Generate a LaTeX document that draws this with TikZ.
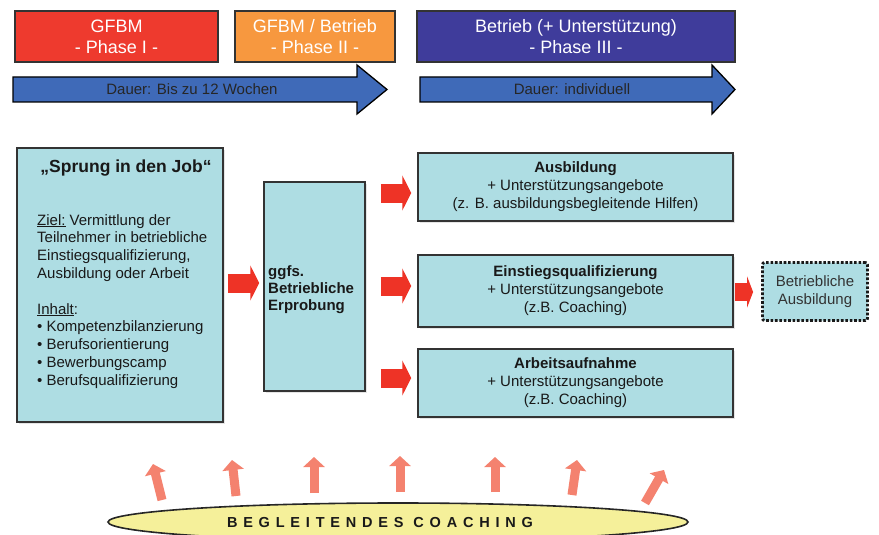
\documentclass[tikz,border=0pt]{standalone}
\usepackage{fontspec}
\setmainfont{Liberation Sans}
\usetikzlibrary{arrows.meta,shapes.geometric,calc,shadows}
\definecolor{phred}{HTML}{EE3A2E}
\definecolor{phorange}{HTML}{F7983F}
\definecolor{phpurple}{HTML}{3F3C9B}
\definecolor{durblue}{HTML}{3F6AB8}
\definecolor{boxcyan}{HTML}{AEDDE3}
\definecolor{arrred}{HTML}{EE3326}
\definecolor{salmon}{HTML}{F4826F}
\definecolor{coachyellow}{HTML}{F5F09A}
\definecolor{edgegray}{HTML}{333333}
\begin{document}
\begin{tikzpicture}[x=1pt,y=-1pt,
  phasebox/.style={draw=edgegray, line width=1.3pt, text=white, align=center, inner sep=0pt,
    font=\fontsize{18}{21}\selectfont},
  cyanbox/.style={draw=edgegray, fill=boxcyan, line width=1.5pt, inner sep=0pt,
    drop shadow={shadow xshift=1.5pt, shadow yshift=-1.5pt, opacity=0.2}},
  resultbox/.style={cyanbox, align=center, text=black!90, font=\fontsize{15}{18}\selectfont,
    minimum width=315pt},
  durarrow/.style={draw=black, fill=durblue, line width=1.3pt, line join=miter},
  durtext/.style={inner sep=0pt, text=black!85, font=\fontsize{15}{18}\selectfont},
  redarr/.style={draw=arrred, line width=19pt, -{Triangle[width=35pt,length=9pt]}},
  smallredarr/.style={draw=arrred, line width=18pt, -{Triangle[width=31pt,length=6pt]}},
  coacharr/.style={draw=salmon, line width=9pt, -{Triangle[width=21pt,length=10pt]}}
]
\useasboundingbox (0,0) rectangle (879,535);
\fill[white] (0,0) rectangle (879,535);

% phase boxes
\node[phasebox, fill=phred, minimum width=203pt, minimum height=51pt] (p1) at (116.5,36.5) {GFBM\\- Phase I -};
\node[phasebox, fill=phorange, minimum width=160pt, minimum height=51pt] (p2) at (315,36.5) {GFBM / Betrieb\\- Phase II -};
\node[phasebox, fill=phpurple, minimum width=318pt, minimum height=51pt] (p3) at (576,36.5) {Betrieb (+ Unterstützung)\\- Phase III -};

% duration arrows
\draw[durarrow] (13,77) -- (357,77) -- (357,65) -- (387,89.5) -- (357,114) -- (357,102) -- (13,102) -- cycle;
\node[durtext] (d1) at (192,89.5) {Dauer: Bis zu 12 Wochen};
\draw[durarrow] (420,77) -- (712,77) -- (712,65) -- (735,89.5) -- (712,114) -- (712,102) -- (420,102) -- cycle;
\node[durtext] (d2) at (572,89.5) {Dauer: individuell};

% left box
\node[cyanbox, minimum width=206pt, minimum height=274pt] (sj) at (120,285) {};
\node[inner sep=0pt, text=black!90, font=\bfseries\fontsize{17.5}{20}\selectfont] (sjt) at (126,168) {„Sprung in den Job“};
\node[anchor=north west, align=left, inner sep=0pt, text=black!90, font=\fontsize{15}{17.8}\selectfont] (sjb) at (37,214)
  {\underline{Ziel:} Vermittlung der\\Teilnehmer in betriebliche\\Einstiegsqualifizierung,\\Ausbildung oder Arbeit\\[17.8pt]
   \underline{Inhalt}:\\• Kompetenzbilanzierung\\• Berufsorientierung\\• Bewerbungscamp\\• Berufsqualifizierung};

% middle box
\node[cyanbox, minimum width=101pt, minimum height=209pt] (gb) at (314.5,286.5) {};
\node[anchor=north west, align=left, inner sep=0pt, text=black!90, font=\bfseries\fontsize{15}{17}\selectfont] (gbt) at (268,265)
  {ggfs.\\Betriebliche\\Erprobung};

% result boxes
\node[resultbox, minimum height=68pt] (a1) at (575.5,187) {\textbf{Ausbildung}\\+ Unterstützungsangebote\\(z. B. ausbildungsbegleitende Hilfen)};
\node[resultbox, minimum height=72pt] (a2) at (575.5,291) {\textbf{Einstiegsqualifizierung}\\+ Unterstützungsangebote\\(z.B. Coaching)};
\node[resultbox, minimum height=68pt] (a3) at (575.5,383) {\textbf{Arbeitsaufnahme}\\+ Unterstützungsangebote\\(z.B. Coaching)};

% dotted box
\node[draw=black!90, dash pattern=on 2.6pt off 1.8pt, line width=2.8pt, fill=boxcyan, rounded corners=2pt,
  minimum width=105pt, minimum height=58pt, inner sep=0pt, align=center, text=black!80,
  font=\fontsize{15}{18}\selectfont] (ba) at (815,291.5) {Betriebliche\\Ausbildung};

% red arrows
\draw[redarr] ($(sj.east |- 0,283)+(4,0)$) -- ($(gb.west |- 0,283)+(-4,0)$);
\draw[redarr] ($(gb.east |- 0,193)+(15,0)$) -- ($(a1.west |- 0,193)+(-6,0)$);
\draw[redarr] ($(gb.east |- 0,286)+(15,0)$) -- ($(a2.west |- 0,286)+(-6,0)$);
\draw[redarr] ($(gb.east |- 0,378)+(15,0)$) -- ($(a3.west |- 0,378)+(-6,0)$);
\draw[smallredarr] ($(a2.east |- 0,292)+(1,0)$) -- ($(ba.west |- 0,292)+(-8,0)$);

% coaching ellipse
\node[ellipse, draw=black!85, line width=1.6pt, fill=coachyellow, minimum width=580pt, minimum height=38pt, inner sep=0pt] (coach) at (398,522) {};
\node[inner sep=0pt, text=black!90, font=\bfseries\fontsize{14.5}{16}\selectfont\addfontfeatures{LetterSpace=40}] (coacht) at (380,523) {BEGLEITENDES COACHING};

% coaching arrows
\coordinate (c1s) at (162,500); \coordinate (c1e) at (153,464);
\coordinate (c2s) at (236,496); \coordinate (c2e) at (232,460);
\coordinate (c3s) at (314,493); \coordinate (c3e) at (314,457);
\coordinate (c4s) at (400,492); \coordinate (c4e) at (400,456);
\coordinate (c5s) at (495,492); \coordinate (c5e) at (495,457);
\coordinate (c6s) at (572,495); \coordinate (c6e) at (577,460);
\coordinate (c7s) at (645,503); \coordinate (c7e) at (664,470);
\foreach \i in {1,...,7} {\draw[coacharr] (c\i s) -- (c\i e);}
\end{tikzpicture}
\end{document}
